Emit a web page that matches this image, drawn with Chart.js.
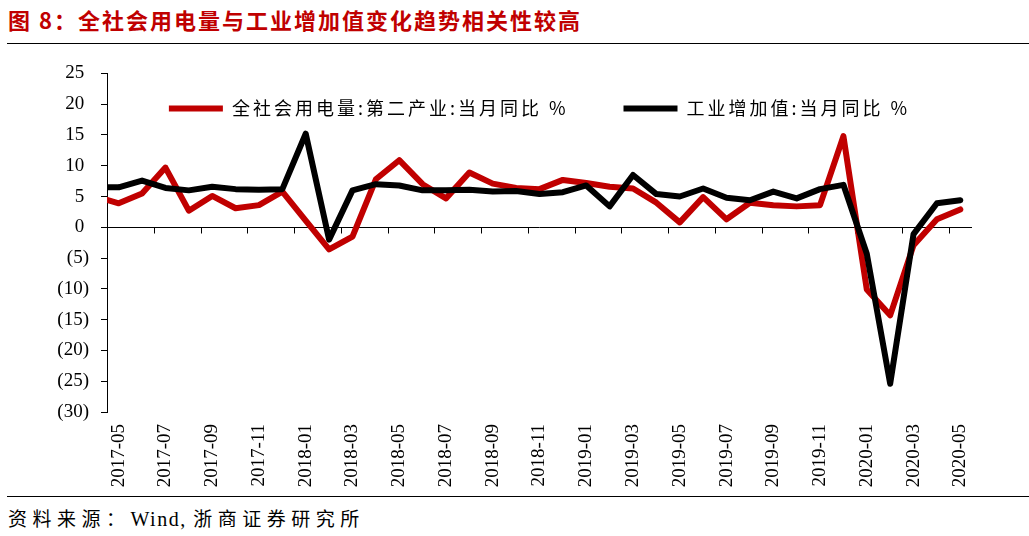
<!DOCTYPE html>
<html lang="zh-CN">
<head>
<meta charset="utf-8">
<title>全社会用电量与工业增加值变化趋势相关性较高</title>
<script src="https://cdn.jsdelivr.net/npm/chart.js@4.4.1/dist/chart.umd.min.js"></script>
<style>
    html, body { margin: 0; padding: 0; background: #fff; }
    body { width: 1029px; height: 536px; position: relative; overflow: hidden; }
    .title {
        position: absolute; left: 8px; top: 5px;
        font-family: "Noto Sans CJK SC", sans-serif; font-weight: 700;
        font-size: 22px; line-height: 28px; letter-spacing: 2px;
        color: #c00000; white-space: nowrap;
    }
    .rule { position: absolute; left: 7px; right: 0; border-top: 1.5px solid #000; }
    .rule.top { top: 43px; }
    .rule.bottom { top: 496px; }
    .chart-box { position: absolute; left: 0; top: 50px; width: 1029px; height: 446px; }
    .source {
        position: absolute; left: 8px; top: 506px;
        font-size: 19px; line-height: 24px; color: #000; white-space: nowrap;
    }
    .source .cjk { font-family: "Noto Sans CJK SC", sans-serif; letter-spacing: 5.5px; }
    .source .lat { font-family: "Liberation Serif", serif; font-size: 20px; letter-spacing: 1.5px; }
</style>
</head>
<body>
<div class="title">图 8：全社会用电量与工业增加值变化趋势相关性较高</div>
<div class="rule top"></div>
<div class="chart-box"><canvas id="power-chart"></canvas></div>
<div class="rule bottom"></div>
<div class="source"><span class="cjk">资料来源：</span><span class="lat">Wind, </span><span class="cjk">浙商证券研究所</span></div>

<script>
// Monthly categories (2017-04 sits just left of the axis and is clipped)
const months = [
    '2017-04', '2017-05', '2017-06', '2017-07', '2017-08', '2017-09', '2017-10', '2017-11', '2017-12',
    '2018-01', '2018-02', '2018-03', '2018-04', '2018-05', '2018-06', '2018-07', '2018-08', '2018-09',
    '2018-10', '2018-11', '2018-12',
    '2019-01', '2019-02', '2019-03', '2019-04', '2019-05', '2019-06', '2019-07', '2019-08', '2019-09',
    '2019-10', '2019-11', '2019-12',
    '2020-01', '2020-02', '2020-03', '2020-04', '2020-05'
];

// 全社会用电量:第二产业:当月同比 %
const powerSecondary = [
    5.0, 3.9, 5.5, 9.7, 2.7, 5.1, 3.1, 3.6, 5.8,
    1.1, -3.6, -1.5, 7.8, 10.9, 7.0, 4.7, 8.9, 7.1, 6.4, 6.2, 7.7,
    7.2, 6.6, 6.3, 4.0, 0.8, 4.9, 1.3, 4.0, 3.6, 3.4, 3.6, 14.8,
    -10.1, -14.3, -2.9, 1.3, 2.9
];

// 工业增加值:当月同比 %
const industryValueAdded = [
    6.5, 6.5, 7.6, 6.4, 6.0, 6.6, 6.2, 6.1, 6.2,
    15.2, -2.0, 6.0, 7.0, 6.8, 6.0, 6.0, 6.1, 5.8, 5.9, 5.4, 5.7,
    6.8, 3.4, 8.5, 5.4, 5.0, 6.3, 4.8, 4.4, 5.8, 4.7, 6.2, 6.9,
    -4.3, -25.4, -1.1, 3.9, 4.4
];

const seriesNames = ['全社会用电量:第二产业:当月同比 %', '工业增加值:当月同比 %'];
const firstMonth = '2017-05';
const lastMonth = '2020-05';
const yMin = -30;
const yMax = 25;
const yStep = 5;

// Excel-style horizontal axis at zero, with ticks every two months
const zeroAxis = {
    id: 'zeroAxis',
    beforeDatasetsDraw(chart) {
        const { ctx, chartArea, scales: { x, y } } = chart;
        const y0 = Math.round(y.getPixelForValue(0)) + 0.5;
        ctx.save();
        ctx.strokeStyle = '#000';
        ctx.lineWidth = 1;
        ctx.beginPath();
        ctx.moveTo(chartArea.left, y0);
        ctx.lineTo(chartArea.right, y0);
        for (let i = x.min; i <= x.max; i++) {
            if (Number(months[i].slice(5)) % 2 === 0) continue;
            const px = Math.round((x.getPixelForValue(i - 1) + x.getPixelForValue(i)) / 2) + 0.5;
            ctx.moveTo(px, y0);
            ctx.lineTo(px, y0 + 6);
        }
        ctx.stroke();
        ctx.restore();
    }
};

// The legend takes no layout space and is drawn inside the plot, with wider glyph spacing
const legendTweak = {
    id: 'legendTweak',
    afterInit(chart) {
        const legend = chart.legend;
        const fit = legend.fit;
        const draw = legend.draw;
        legend.fit = function () {
            this.ctx.save();
            this.ctx.letterSpacing = '3px';
            fit.call(this);
            this.ctx.restore();
            this.height = 0;
        };
        legend.draw = function () {
            const bottom = this.bottom;
            this.bottom = chart.height;
            this.ctx.save();
            this.ctx.letterSpacing = '3px';
            this.ctx.translate(0, -29);
            draw.call(this);
            this.ctx.restore();
            this.bottom = bottom;
        };
    }
};

const ctx = document.getElementById('power-chart').getContext('2d');
new Chart(ctx, {
    type: 'line',
    data: {
        labels: months,
        datasets: [
            {
                label: seriesNames[1],
                data: industryValueAdded,
                borderColor: '#000000',
                backgroundColor: '#000000',
                pointBorderColor: '#000000'
            },
            {
                label: seriesNames[0],
                data: powerSecondary,
                borderColor: '#c00000',
                backgroundColor: '#c00000',
                pointBorderColor: '#c00000'
            }
        ]
    },
    options: {
        responsive: true,
        maintainAspectRatio: false,
        animation: false,
        layout: { padding: { top: 22, right: 57, left: 0, bottom: 0 } },
        elements: {
            line: { borderWidth: 6, tension: 0, fill: false, borderJoinStyle: 'round', borderCapStyle: 'round' },
            point: { radius: 0, hoverRadius: 0, borderWidth: 6 }
        },
        scales: {
            x: {
                type: 'category',
                min: firstMonth,
                max: lastMonth,
                offset: true,
                grid: { display: false },
                border: { display: false },
                ticks: {
                    autoSkip: false,
                    minRotation: 90,
                    maxRotation: 90,
                    padding: 4,
                    color: '#000',
                    font: { family: '"Liberation Serif", serif', size: 19 },
                    callback(value) {
                        const label = this.getLabelForValue(value);
                        return Number(label.slice(5)) % 2 === 1 ? label : '';
                    }
                },
                afterFit(scale) { scale.height = 84; }
            },
            y: {
                min: yMin,
                max: yMax,
                grid: { drawOnChartArea: false, drawTicks: true, tickLength: 6, color: '#000' },
                border: { display: true, color: '#000', width: 1 },
                ticks: {
                    stepSize: yStep,
                    padding: 12,
                    color: '#000',
                    font: { family: '"Liberation Serif", serif', size: 19 },
                    callback: v => (v < 0 ? '(' + (-v) + ')' : v + ' ')
                },
                afterFit(scale) { scale.width = 107; }
            }
        },
        plugins: {
            tooltip: { enabled: false },
            legend: {
                position: 'top',
                fullSize: false,
                align: 'center',
                reverse: true,
                labels: {
                    usePointStyle: true,
                    pointStyle: 'line',
                    pointStyleWidth: 54,
                    padding: 55,
                    color: '#000',
                    font: { family: '"Noto Sans CJK SC", sans-serif', size: 18 }
                }
            }
        }
    },
    plugins: [zeroAxis, legendTweak]
});
</script>
</body>
</html>
